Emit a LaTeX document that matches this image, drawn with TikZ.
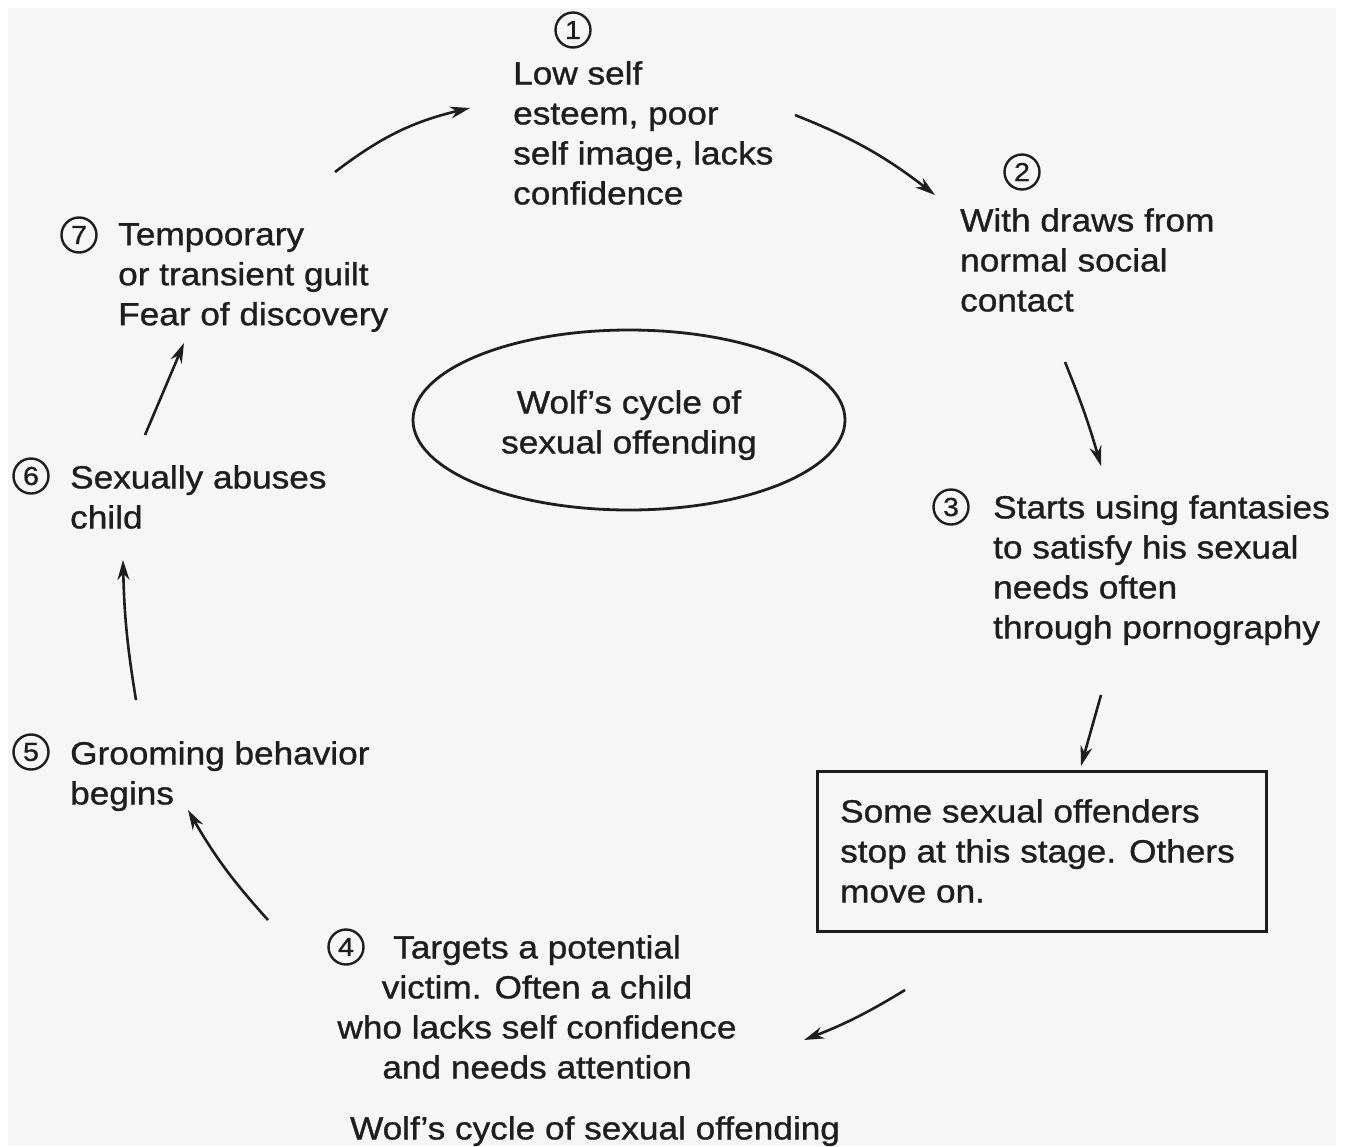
\documentclass[tikz,border=0pt]{standalone}
\usepackage{fontspec}
\setmainfont{Liberation Sans}[FakeStretch=1.1,FakeBold=1]
\usetikzlibrary{arrows.meta,shapes.geometric}
\definecolor{bg}{HTML}{F6F6F6}
\definecolor{ink}{HTML}{1E1E1E}
\begin{document}
\begin{tikzpicture}[x=1pt,y=-1pt,
  txt/.style={inner sep=0pt,align=left,text=ink,font=\fontsize{32}{40}\selectfont},
  num/.style={draw=ink,line width=2.4pt,circle,minimum width=32pt,minimum height=35pt,inner sep=0pt,text=ink,font=\fontsize{26}{26}\selectfont},
  arr/.style={draw=ink,line width=2.6pt,-{Stealth[length=20pt,width=12pt]}}]
\useasboundingbox (0,0) rectangle (1346,1146);
\fill[white] (0,0) rectangle (1346,1146);
\fill[bg] (8,8) rectangle (1336,1146);
% numbers
\node[num] (n1) at (573,30) {1};
\node[num] (n2) at (1022,172) {2};
\node[num] (n3) at (951,507) {3};
\node[num] (n4) at (346,947) {4};
\node[num] (n5) at (31,752) {5};
\node[num] (n6) at (31,476) {6};
\node[num] (n7) at (79,235) {7};
% texts
\node[txt,anchor=north west] (t1) at (513,61) {Low self\\esteem, poor\\self image, lacks\\confidence};
\node[txt,anchor=north west] (t2) at (960,208) {With draws from\\normal social\\contact};
\node[txt,anchor=north west] (t3) at (993,495) {Starts using fantasies\\to satisfy his sexual\\needs often\\through pornography};
\node[txt,anchor=north,align=center] (t4) at (537,935) {Targets a potential\\victim. Often a child\\who lacks self confidence\\and needs attention};
\node[txt,anchor=north west] (t5) at (70,741) {Grooming behavior\\begins};
\node[txt,anchor=north west] (t6) at (70,465) {Sexually abuses\\child};
\node[txt,anchor=north west] (t7) at (118,223) {Tempoorary\\or transient guilt\\Fear of discovery};
% box
\node[draw=ink,line width=3.2pt,minimum width=449pt,minimum height=160pt,inner sep=0pt,anchor=north west] (box) at (816,770) {};
\node[txt,anchor=north west] (tb) at (840,799) {Some sexual offenders\\stop at this stage. Others\\move on.};
% ellipse
\node[draw=ink,line width=2.8pt,ellipse,minimum width=432pt,minimum height=180pt,inner sep=0pt] (ell) at (629,420) {};
\node[txt,anchor=north,align=center] (te) at (629,390) {Wolf's cycle of\\sexual offending};
% caption
\node[txt,anchor=north] (cap) at (595,1116) {Wolf's cycle of sexual offending};
% arrows
\coordinate (a7s) at (335,172); \coordinate (a7e) at (470,108);
\coordinate (a1s) at (795,115); \coordinate (a1e) at (935,195);
\coordinate (a2s) at (1065,362); \coordinate (a2e) at (1101,466);
\coordinate (a3s) at (1101,695); \coordinate (a3e) at (1081,766);
\coordinate (abs) at (905,990); \coordinate (abe) at (804,1040);
\coordinate (a4s) at (268,920); \coordinate (a4e) at (188,810);
\coordinate (a5s) at (136,700); \coordinate (a5e) at (123,560);
\coordinate (a6s) at (145,435); \coordinate (a6e) at (184,343);
\draw[arr] (a7s) to[bend left=12] (a7e);
\draw[arr] (a1s) to[bend left=8] (a1e);
\draw[arr] (a2s) to[bend left=3] (a2e);
\draw[arr] (a3s) to (a3e);
\draw[arr] (abs) to[bend left=5] (abe);
\draw[arr] (a4s) to[bend left=6] (a4e);
\draw[arr] (a5s) to[bend left=4] (a5e);
\draw[arr] (a6s) to (a6e);
\end{tikzpicture}
\end{document}
